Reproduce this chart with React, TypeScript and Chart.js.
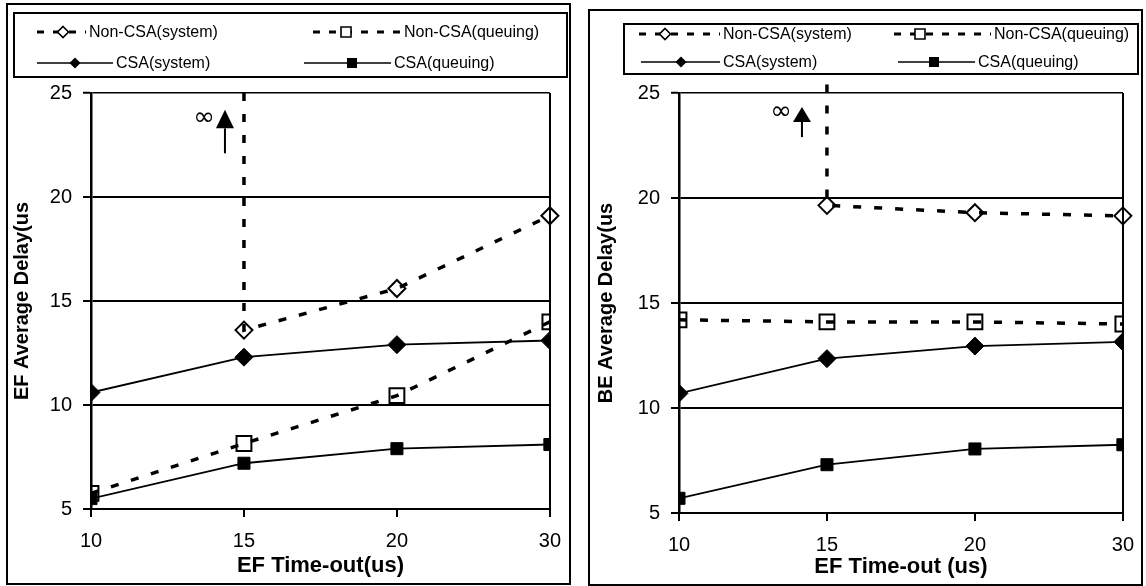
import React, { useEffect, useRef } from 'react';
import { Chart, registerables } from 'chart.js';

Chart.register(...registerables);

// ---------- data ----------
const categories = ['10', '15', '20', '30'];
const seriesLabels = ['Non-CSA(system)', 'Non-CSA(queuing)', 'CSA(system)', 'CSA(queuing)'];
const yMin = 5;
const yMax = 25;
const yStep = 5;

// EF panel (left)
const efNonCsaSystem = [null, 13.6, 15.6, 19.1];
const efNonCsaQueuing = [5.75, 8.15, 10.45, 14.0];
const efCsaSystem = [10.6, 12.3, 12.9, 13.1];
const efCsaQueuing = [5.5, 7.2, 7.9, 8.1];
const efInfiniteFrom = 25.0;

// BE panel (right)
const beNonCsaSystem = [null, 19.65, 19.3, 19.15];
const beNonCsaQueuing = [14.2, 14.1, 14.1, 14.0];
const beCsaSystem = [10.7, 12.35, 12.95, 13.15];
const beCsaQueuing = [5.7, 7.3, 8.05, 8.25];
const beInfiniteFrom = 25.4;

const FAMILY = 'Liberation Sans, Arial, Helvetica, sans-serif';
const DASH = [8, 13];
const LEGEND_DASH = [7, 9];

function systemPoints(vals: (number | null)[], infTop: number) {
  const pts: { x: number; y: number }[] = [];
  const first = vals.findIndex((v) => v != null);
  pts.push({ x: first, y: infTop });
  vals.forEach((v, i) => {
    if (v != null) pts.push({ x: i, y: v as number });
  });
  return pts;
}
function plainPoints(vals: number[]) {
  return vals.map((v, i) => ({ x: i, y: v }));
}

function drawMarker(ctx: CanvasRenderingContext2D, style: string, filled: boolean, x: number, y: number, h: number) {
  ctx.save();
  ctx.setLineDash([]);
  ctx.beginPath();
  if (style === 'rectRot') {
    ctx.moveTo(x, y - h);
    ctx.lineTo(x + h, y);
    ctx.lineTo(x, y + h);
    ctx.lineTo(x - h, y);
    ctx.closePath();
  } else {
    ctx.rect(x - h, y - h, 2 * h, 2 * h);
  }
  if (filled) {
    ctx.fillStyle = '#000';
    ctx.fill();
  } else {
    ctx.fillStyle = '#fff';
    ctx.fill();
    ctx.lineWidth = 1.6;
    ctx.strokeStyle = '#000';
    ctx.stroke();
  }
  ctx.restore();
}

const decorPlugin = {
  id: 'panelDecor',
  afterDatasetsDraw(chart: any, _args: any, opts: any) {
    const a = opts.arrow;
    if (!a) return;
    const ctx: CanvasRenderingContext2D = chart.ctx;
    const xs = chart.scales.x;
    const ys = chart.scales.y;
    const x = xs.getPixelForValue(a.atIndex) + a.dx;
    const tip = ys.getPixelForValue(a.tip);
    const base = ys.getPixelForValue(a.base);
    const end = ys.getPixelForValue(a.end);
    ctx.save();
    ctx.strokeStyle = '#000';
    ctx.fillStyle = '#000';
    ctx.lineWidth = 2;
    ctx.beginPath();
    ctx.moveTo(x, base);
    ctx.lineTo(x, end);
    ctx.stroke();
    ctx.beginPath();
    ctx.moveTo(x, tip);
    ctx.lineTo(x - a.hw, base);
    ctx.lineTo(x + a.hw, base);
    ctx.closePath();
    ctx.fill();
    ctx.font = '26px DejaVu Sans, sans-serif';
    ctx.textAlign = 'center';
    ctx.textBaseline = 'middle';
    ctx.fillText('\u221E', x + a.infDx, ys.getPixelForValue(a.infY));
    ctx.restore();
  },
  afterDraw(chart: any, _args: any, opts: any) {
    const ctx: CanvasRenderingContext2D = chart.ctx;
    ctx.save();
    // outer frame
    const f = opts.frame;
    ctx.strokeStyle = '#000';
    ctx.lineWidth = 2;
    ctx.strokeRect(f[0], f[1], f[2] - f[0], f[3] - f[1]);
    // legend box
    const lg = opts.legend;
    ctx.strokeRect(lg.box[0], lg.box[1], lg.box[2] - lg.box[0], lg.box[3] - lg.box[1]);
    chart.data.datasets.forEach((ds: any, i: number) => {
      const it = lg.items[i];
      const dashed = !!ds.borderDash;
      ctx.save();
      ctx.strokeStyle = '#000';
      ctx.lineWidth = dashed ? 3 : 1.5;
      ctx.setLineDash(dashed ? LEGEND_DASH : []);
      ctx.beginPath();
      ctx.moveTo(it.x0, it.y);
      ctx.lineTo(it.x1, it.y);
      ctx.stroke();
      ctx.restore();
      const filled = !dashed;
      drawMarker(ctx, ds.pointStyle, filled, it.mx, it.y, ds.pointStyle === 'rectRot' ? 5.5 : 5);
      ctx.fillStyle = '#000';
      ctx.font = `16px ${FAMILY}`;
      ctx.textAlign = 'left';
      ctx.textBaseline = 'middle';
      ctx.fillText(ds.label, it.tx, it.y + 1);
    });
    ctx.restore();
  },
};

type PanelSpec = {
  nonCsaSystem: (number | null)[];
  nonCsaQueuing: number[];
  csaSystem: number[];
  csaQueuing: number[];
  infiniteFrom: number;
  xTitle: string;
  yTitle: string;
  yAxisWidth: number;
  xAxisHeight: number;
  padRight: number;
  padTop: number;
  xTitlePad: number;
  yTitlePad: number;
  frame: number[];
  legend: any;
  arrow: any;
};

function buildConfig(p: PanelSpec): any {
  const datasets = [
    {
      label: seriesLabels[0],
      data: systemPoints(p.nonCsaSystem, p.infiniteFrom),
      borderColor: '#000',
      borderWidth: 3.5,
      borderDash: DASH,
      borderCapStyle: 'butt',
      pointStyle: 'rectRot',
      pointRadius: (c: any) => (c.dataIndex === 0 ? 0 : 8.5),
      pointBackgroundColor: 'rgba(255,255,255,0)',
      pointBorderColor: '#000',
      pointBorderWidth: 2,
      clip: false,
      tension: 0,
      fill: false,
    },
    {
      label: seriesLabels[1],
      data: plainPoints(p.nonCsaQueuing),
      borderColor: '#000',
      borderWidth: 3.5,
      borderDash: DASH,
      borderCapStyle: 'butt',
      pointStyle: 'rect',
      pointRadius: 10.5,
      pointBackgroundColor: 'rgba(255,255,255,0)',
      pointBorderColor: '#000',
      pointBorderWidth: 2,
      tension: 0,
      fill: false,
    },
    {
      label: seriesLabels[2],
      data: plainPoints(p.csaSystem),
      borderColor: '#000',
      borderWidth: 1.8,
      pointStyle: 'rectRot',
      pointRadius: 9,
      pointBackgroundColor: '#000',
      pointBorderColor: '#000',
      pointBorderWidth: 1,
      tension: 0,
      fill: false,
    },
    {
      label: seriesLabels[3],
      data: plainPoints(p.csaQueuing),
      borderColor: '#000',
      borderWidth: 1.8,
      pointStyle: 'rect',
      pointRadius: 8.5,
      pointBackgroundColor: '#000',
      pointBorderColor: '#000',
      pointBorderWidth: 1,
      tension: 0,
      fill: false,
    },
  ];

  return {
    type: 'line',
    data: { datasets },
    plugins: [decorPlugin],
    options: {
      responsive: false,
      animation: false,
      devicePixelRatio: 1,
      events: [],
      layout: { padding: { left: 0, right: p.padRight, top: p.padTop, bottom: 0 } },
      plugins: {
        legend: { display: false },
        tooltip: { enabled: false },
        title: { display: false },
        panelDecor: { frame: p.frame, legend: p.legend, arrow: p.arrow },
      },
      scales: {
        x: {
          type: 'linear',
          min: 0,
          max: categories.length - 1,
          afterBuildTicks: (axis: any) => {
            axis.ticks = categories.map((_, i) => ({ value: i }));
          },
          afterFit: (axis: any) => {
            axis.height = p.xAxisHeight;
          },
          ticks: {
            callback: (v: any) => categories[v],
            font: { size: 20, family: FAMILY },
            color: '#000',
            padding: 12,
            autoSkip: false,
            maxRotation: 0,
          },
          grid: {
            color: (c: any) => (c.index === categories.length - 1 ? '#000' : 'rgba(0,0,0,0)'),
            lineWidth: 2,
            tickColor: '#000',
            tickWidth: 2,
            tickLength: 8,
            drawOnChartArea: true,
          },
          border: { display: true, color: '#000', width: 2 },
          title: {
            display: true,
            text: p.xTitle,
            color: '#000',
            font: { size: 22, weight: 'bold', family: FAMILY },
            padding: { top: 0, bottom: p.xTitlePad },
          },
        },
        y: {
          min: yMin,
          max: yMax,
          afterFit: (axis: any) => {
            axis.width = p.yAxisWidth;
          },
          ticks: {
            stepSize: yStep,
            font: { size: 20, family: FAMILY },
            color: '#000',
            padding: 11,
          },
          grid: {
            color: '#000',
            lineWidth: (c: any) => (c.tick && c.tick.value === yMax ? 1.5 : 2),
            tickColor: '#000',
            tickWidth: 2,
            tickLength: 8,
          },
          border: { display: true, color: '#000', width: 2.5 },
          title: {
            display: true,
            text: p.yTitle,
            color: '#000',
            font: { size: 20, weight: 'bold', family: FAMILY },
            padding: { top: p.yTitlePad, bottom: 0 },
          },
        },
      },
    },
  };
}

const efSpec: PanelSpec = {
  nonCsaSystem: efNonCsaSystem,
  nonCsaQueuing: efNonCsaQueuing,
  csaSystem: efCsaSystem,
  csaQueuing: efCsaQueuing,
  infiniteFrom: efInfiniteFrom,
  xTitle: 'EF Time-out(us)',
  yTitle: 'EF Average Delay(us',
  yAxisWidth: 91,
  xAxisHeight: 77,
  padRight: 22,
  padTop: 93,
  xTitlePad: 7,
  yTitlePad: 10,
  frame: [7, 4, 570, 584],
  legend: {
    box: [14, 13, 567, 77],
    items: [
      { y: 32, x0: 37, x1: 86, mx: 63, tx: 89 },
      { y: 32, x0: 313, x1: 401, mx: 346, tx: 404 },
      { y: 63, x0: 37, x1: 113, mx: 75, tx: 116 },
      { y: 63, x0: 304, x1: 391, mx: 352, tx: 394 },
    ],
  },
  arrow: { atIndex: 1, dx: -19, tip: 24.2, base: 23.3, end: 22.1, hw: 9, infDx: -21, infY: 23.8 },
};

const beSpec: PanelSpec = {
  nonCsaSystem: beNonCsaSystem,
  nonCsaQueuing: beNonCsaQueuing,
  csaSystem: beCsaSystem,
  csaQueuing: beCsaQueuing,
  infiniteFrom: beInfiniteFrom,
  xTitle: 'EF Time-out (us)',
  yTitle: 'BE Average Delay(us',
  yAxisWidth: 106,
  xAxisHeight: 73,
  padRight: 14,
  padTop: 93,
  xTitlePad: 6,
  yTitlePad: 21,
  frame: [16, 10, 569, 585],
  legend: {
    box: [51, 24, 565, 74],
    items: [
      { y: 34, x0: 66, x1: 147, mx: 92, tx: 150 },
      { y: 34, x0: 321, x1: 418, mx: 347, tx: 421 },
      { y: 62, x0: 68, x1: 147, mx: 108, tx: 150 },
      { y: 62, x0: 325, x1: 402, mx: 361, tx: 405 },
    ],
  },
  arrow: { atIndex: 1, dx: -25, tip: 24.33, base: 23.62, end: 22.9, hw: 9, infDx: -21, infY: 24.1 },
};

function Panel({ spec, left }: { spec: PanelSpec; left: number }) {
  const ref = useRef<HTMLCanvasElement>(null);
  useEffect(() => {
    if (!ref.current) return;
    const chart = new Chart(ref.current, buildConfig(spec));
    return () => chart.destroy();
  }, [spec]);
  return (
    <canvas
      ref={ref}
      width={573}
      height={586}
      style={{ position: 'absolute', left, top: 0, width: 573, height: 586, display: 'block' }}
    />
  );
}

export default function App() {
  return (
    <div>
      <Panel spec={efSpec} left={0} />
      <Panel spec={beSpec} left={573} />
    </div>
  );
}
